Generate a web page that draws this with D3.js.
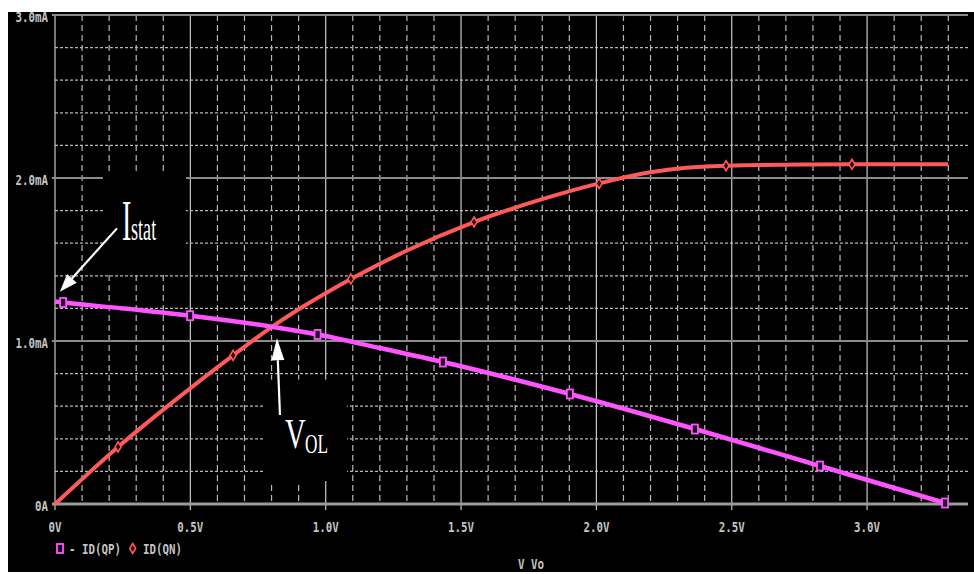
<!DOCTYPE html>
<html><head><meta charset="utf-8">
<script src="https://cdn.jsdelivr.net/npm/d3@7"></script>
<style>html,body{margin:0;padding:0;background:#fff;}svg{display:block;}</style>
</head><body>
<svg id="chart" width="974" height="574"></svg>
<script>
// ---- data ----
const voltsQP   = [0, 0.03, 0.25, 0.499, 0.80, 0.97, 1.2, 1.433, 1.902, 2.364, 2.826, 3.288, 3.3];
const currentQP = [1.242, 1.236, 1.20, 1.155, 1.088, 1.040, 0.957, 0.871, 0.675, 0.460, 0.233, 0.006, 0.0];
const markersQP = [1, 3, 5, 7, 8, 9, 10, 11];

const voltsQN   = [0, 0.233, 0.45, 0.658, 0.80, 1.093, 1.30, 1.548, 1.80, 2.01, 2.2, 2.479, 2.944, 3.3];
const currentQN = [0, 0.350, 0.645, 0.912, 1.085, 1.380, 1.555, 1.730, 1.870, 1.967, 2.035, 2.075, 2.084, 2.085];
const markersQN = [1, 3, 5, 7, 9, 11, 12];

const xTickValues = [0, 0.5, 1.0, 1.5, 2.0, 2.5, 3.0];
const xTickLabels = ["0V", "0.5V", "1.0V", "1.5V", "2.0V", "2.5V", "3.0V"];
const yTickValues = [0, 1, 2, 3];
const yTickLabels = ["0A", "1.0mA", "2.0mA", "3.0mA"];
const legendLabels = ["- ID(QP)", "ID(QN)"];
const xTitle = "V Vo";

// ---- layout ----
const svg = d3.select("#chart");
const x = d3.scaleLinear().domain([0, 3.3]).range([55, 948.3]);
const y = d3.scaleLinear().domain([0, 3]).range([504, 15]);
const plotRight = 968;
const magenta = "#ff55ff", red = "#ff5a5a", txt = "#c4c4c4";

svg.append("rect").attr("x", 8).attr("y", 12).attr("width", 966).attr("height", 560).attr("fill", "#000");

const grid = svg.append("g");
// minor vertical (0.1 V)
const xMinor = d3.range(1, 34).map(i => i / 10).filter(v => Math.abs(v * 2 - Math.round(v * 2)) > 1e-6);
grid.selectAll(".vminor").data(xMinor).join("line")
  .attr("x1", d => x(d)).attr("x2", d => x(d)).attr("y1", y(3)).attr("y2", y(0))
  .attr("stroke", "#b8b8b8").attr("stroke-width", 1.2).attr("stroke-dasharray", "6,4");
// minor horizontal (0.2 mA)
const yMinor = d3.range(1, 15).map(i => i / 5).filter(v => Math.abs(v - Math.round(v)) > 1e-6);
grid.selectAll(".hminor").data(yMinor).join("line")
  .attr("x1", x(0)).attr("x2", plotRight).attr("y1", d => y(d)).attr("y2", d => y(d))
  .attr("stroke", "#b8b8b8").attr("stroke-width", 1.3).attr("stroke-dasharray", "3,2");
// major vertical
grid.selectAll(".vmajor").data(xTickValues).join("line")
  .attr("x1", d => x(d)).attr("x2", d => x(d)).attr("y1", y(3)).attr("y2", y(0) + 6)
  .attr("stroke", "#c8c8c8").attr("stroke-width", 1.2);
// major horizontal
grid.selectAll(".hmajor").data([1, 2, 3]).join("line")
  .attr("x1", x(0) - 3).attr("x2", plotRight).attr("y1", d => y(d)).attr("y2", d => y(d))
  .attr("stroke", "#8c8c8c").attr("stroke-width", 2.2);
grid.append("line").attr("x1", x(0) - 3).attr("x2", plotRight).attr("y1", y(0)).attr("y2", y(0))
  .attr("stroke", "#9a9a9a").attr("stroke-width", 3);

// annotation black boxes (hide grid)
svg.append("rect").attr("x", x(0.177)).attr("y", y(2.037)).attr("width", x(0.484) - x(0.177)).attr("height", y(1.423) - y(2.037)).attr("fill", "#000");
svg.append("rect").attr("x", x(0.772)).attr("y", y(0.763)).attr("width", x(1.079) - x(0.772)).attr("height", y(0.141) - y(0.763)).attr("fill", "#000");

// ---- series ----
const line = d3.line().x(d => x(d[0])).y(d => y(d[1])).curve(d3.curveMonotoneX);
const qp = voltsQP.map((v, i) => [v, currentQP[i]]);
const qn = voltsQN.map((v, i) => [v, currentQN[i]]);
svg.append("path").attr("d", line(qn)).attr("fill", "none").attr("stroke", red).attr("stroke-width", 4);
svg.append("path").attr("d", line(qp)).attr("fill", "none").attr("stroke", magenta).attr("stroke-width", 4.5);

function square(g, cx, cy) {
  g.append("rect").attr("x", cx - 3).attr("y", cy - 4.5).attr("width", 6).attr("height", 9)
    .attr("fill", "#1a001a").attr("stroke", magenta).attr("stroke-width", 1.8);
}
function diamond(g, cx, cy) {
  g.append("path").attr("d", `M${cx},${cy - 5}L${cx + 3},${cy}L${cx},${cy + 5}L${cx - 3},${cy}Z`)
    .attr("fill", "#200000").attr("stroke", red).attr("stroke-width", 1.6);
}
const mk = svg.append("g");
markersQN.forEach(i => diamond(mk, x(voltsQN[i]), y(currentQN[i])));
markersQP.forEach(i => square(mk, x(voltsQP[i]), y(currentQP[i])));

// ---- axis labels ----
function mono(str, px, py, anchor) {
  svg.append("text").attr("transform", `translate(${px},${py}) scale(1,1.35)`)
    .attr("text-anchor", anchor).attr("font-family", "DejaVu Sans Mono").attr("font-size", 10.8)
    .attr("font-weight", "bold").attr("fill", txt).text(str);
}
yTickValues.forEach((v, i) => mono(yTickLabels[i], 48, y(v) + 7, "end"));
xTickValues.forEach((v, i) => mono(xTickLabels[i], x(v), 532, "middle"));
mono(xTitle, 531, 569, "middle");

// legend
square(svg, 60, 548.5);
mono(legendLabels[0], 69, 554, "start");
diamond(svg, 132.7, 548.5);
mono(legendLabels[1], 143, 554, "start");

// ---- annotations ----
function arrow(x1, y1, x2, y2, headLen, headW) {
  const dx = x2 - x1, dy = y2 - y1, L = Math.hypot(dx, dy), ux = dx / L, uy = dy / L;
  const bx = x2 - ux * headLen, by = y2 - uy * headLen;
  svg.append("line").attr("x1", x1).attr("y1", y1).attr("x2", bx).attr("y2", by)
    .attr("stroke", "#fff").attr("stroke-width", 2.2);
  svg.append("path").attr("d", `M${x2},${y2}L${bx - uy * headW / 2},${by + ux * headW / 2}L${bx + uy * headW / 2},${by - ux * headW / 2}Z`)
    .attr("fill", "#fff");
}
arrow(x(0.229), y(1.691), x(0.018), y(1.302), 18, 13);
arrow(x(0.831), y(0.546), x(0.820), y(1.017), 22, 13);

function serif(str, px, py, size, sx) {
  svg.append("text").attr("transform", `translate(${px},${py}) scale(${sx},1)`)
    .attr("font-family", "Liberation Serif").attr("font-size", size).attr("fill", "#fff").text(str);
}
serif("I", 122, 240, 56, 0.5);
serif("stat", 131, 240, 33, 0.55);
serif("V", 285, 448, 42, 0.68);
serif("OL", 305, 453, 27, 0.64);
</script>
</body></html>
